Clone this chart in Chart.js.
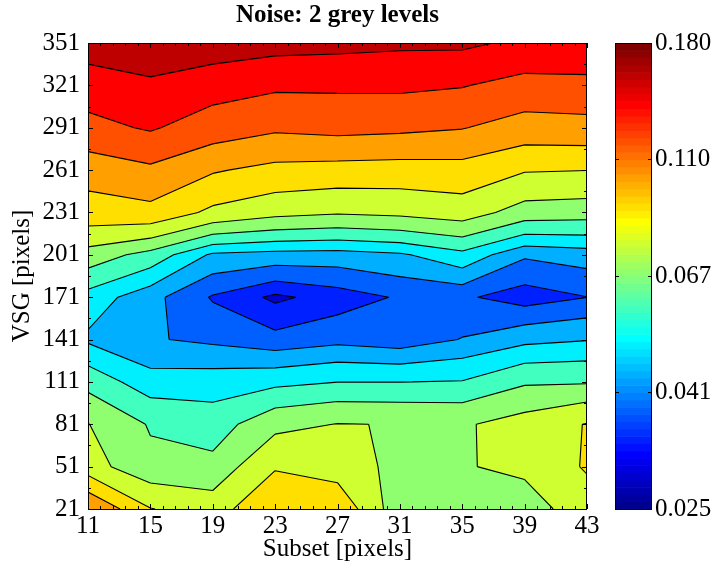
<!DOCTYPE html>
<html>
<head>
<meta charset="utf-8">
<script src="https://cdn.jsdelivr.net/npm/chart.js"></script>
<style>
  body { margin: 0; background: #fff; }
  canvas { display: block; }
</style>
</head>
<body>
<canvas id="chart" width="717" height="572"></canvas>
<script>
// ======== Data ========
const subset = [11, 15, 19, 23, 27, 31, 35, 39, 43];
const vsg = [21, 51, 81, 111, 141, 171, 201, 231, 261, 291, 321, 351];

// one row per VSG value, one column per subset size
const noise21  = [0.1172, 0.0900, 0.0834, 0.1017, 0.0990, 0.0700, 0.0723, 0.0726, 0.0835];
const noise51  = [0.0822, 0.0698, 0.0701, 0.0882, 0.0837, 0.0743, 0.0769, 0.0798, 0.0908];
const noise81  = [0.0779, 0.0665, 0.0627, 0.0744, 0.0779, 0.0773, 0.0763, 0.0821, 0.0901];
const noise111 = [0.0640, 0.0536, 0.0544, 0.0561, 0.0583, 0.0583, 0.0588, 0.0661, 0.0664];
const noise141 = [0.0494, 0.0446, 0.0426, 0.0398, 0.0420, 0.0402, 0.0443, 0.0486, 0.0503];
const noise171 = [0.0550, 0.0460, 0.0375, 0.0320, 0.0353, 0.0387, 0.0390, 0.0353, 0.0380];
const noise201 = [0.0731, 0.0638, 0.0493, 0.0479, 0.0475, 0.0496, 0.0560, 0.0449, 0.0469];
const noise231 = [0.0972, 0.0989, 0.0866, 0.0810, 0.0787, 0.0802, 0.0831, 0.0728, 0.0717];
const noise261 = [0.1090, 0.1156, 0.1046, 0.0990, 0.0975, 0.0968, 0.0977, 0.0904, 0.0897];
const noise291 = [0.1317, 0.1390, 0.1277, 0.1216, 0.1239, 0.1223, 0.1196, 0.1119, 0.1131];
const noise321 = [0.1463, 0.1547, 0.1453, 0.1402, 0.1402, 0.1406, 0.1381, 0.1304, 0.1317];
const noise351 = [0.1696, 0.1711, 0.1706, 0.1658, 0.1642, 0.1619, 0.1619, 0.1540, 0.1531];
const noise = [noise21, noise51, noise81, noise111, noise141, noise171,
               noise201, noise231, noise261, noise291, noise321, noise351];

const levels = [0.0287, 0.0331, 0.0381, 0.0440, 0.0507, 0.0584, 0.0674,
                0.0776, 0.0895, 0.1032, 0.1189, 0.1371, 0.1580];
const cbTicks = [0.025, 0.041, 0.067, 0.110, 0.180];

const FONT = 'Liberation Serif, Times New Roman, serif';

// ======== Colours (64-step jet, like the colorbar) ========
function jet(t) {
  const c = v => Math.round(255 * Math.max(0, Math.min(1, v)));
  return `rgb(${c(Math.min(4 * t - 1.5, -4 * t + 4.5))},${c(Math.min(4 * t - 0.5, -4 * t + 3.5))},${c(Math.min(4 * t + 0.5, -4 * t + 2.5))})`;
}
function jet64(f) {
  const idx = Math.max(0, Math.min(63, Math.floor(f * 64)));
  return jet((idx + 1) / 64);
}
function logFrac(v) {
  const lo = cbTicks[0], hi = cbTicks[cbTicks.length - 1];
  return Math.log(v / lo) / Math.log(hi / lo);
}

// ======== Contour helpers ========
function cellCorners(px, py, i, j) {
  return [
    { x: px[i], y: py[j], v: noise[j][i] },
    { x: px[i + 1], y: py[j], v: noise[j][i + 1] },
    { x: px[i + 1], y: py[j + 1], v: noise[j + 1][i + 1] },
    { x: px[i], y: py[j + 1], v: noise[j + 1][i] }
  ];
}

function edgeCrossings(c, lev) {
  const e = [];
  for (let k = 0; k < 4; k++) {
    const a = c[k], b = c[(k + 1) % 4];
    if ((a.v >= lev) !== (b.v >= lev)) {
      const t = (lev - a.v) / (b.v - a.v);
      e.push({ x: a.x + t * (b.x - a.x), y: a.y + t * (b.y - a.y) });
    } else e.push(null);
  }
  return e;
}

function superlevelShapes(c, lev) {
  const above = c.map(p => p.v >= lev);
  const e = edgeCrossings(c, lev);
  const saddle = above[0] === above[2] && above[1] === above[3] && above[0] !== above[1];
  const centre = (c[0].v + c[1].v + c[2].v + c[3].v) / 4;
  if (saddle && centre < lev) {
    const shapes = [];
    for (let k = 0; k < 4; k++) {
      if (above[k]) shapes.push([e[(k + 3) % 4], c[k], e[k]]);
    }
    return shapes;
  }
  const pts = [];
  for (let k = 0; k < 4; k++) {
    if (above[k]) pts.push(c[k]);
    if (e[k]) pts.push(e[k]);
  }
  return pts.length >= 3 ? [pts] : [];
}

function contourSegments(c, lev) {
  const above = c.map(p => p.v >= lev);
  const e = edgeCrossings(c, lev);
  const hits = e.map((p, k) => p ? k : -1).filter(k => k >= 0);
  if (hits.length === 2) return [[e[hits[0]], e[hits[1]]]];
  if (hits.length === 4) {
    const centreAbove = (c[0].v + c[1].v + c[2].v + c[3].v) / 4 >= lev;
    const segs = [];
    for (let k = 0; k < 4; k++) {
      if (above[k] !== centreAbove) segs.push([e[(k + 3) % 4], e[k]]);
    }
    return segs;
  }
  return [];
}

// ======== Plugin: filled contours, frame, colorbar ========
const contourPlugin = {
  id: 'contourPlugin',
  beforeDatasetsDraw(chart) {
    const { ctx, chartArea: a, scales: { x, y } } = chart;
    const px = subset.map(v => x.getPixelForValue(v));
    const py = vsg.map(v => y.getPixelForValue(v));

    ctx.save();
    ctx.beginPath();
    ctx.rect(a.left, a.top, a.right - a.left, a.bottom - a.top);
    ctx.clip();

    levels.forEach(lev => {
      ctx.beginPath();
      for (let j = 0; j < vsg.length - 1; j++) {
        for (let i = 0; i < subset.length - 1; i++) {
          superlevelShapes(cellCorners(px, py, i, j), lev).forEach(poly => {
            ctx.moveTo(poly[0].x, poly[0].y);
            for (let k = 1; k < poly.length; k++) ctx.lineTo(poly[k].x, poly[k].y);
            ctx.closePath();
          });
        }
      }
      ctx.fillStyle = jet64(logFrac(lev));
      ctx.fill('nonzero');
    });

    ctx.strokeStyle = '#000';
    ctx.lineWidth = 1.1;
    ctx.lineJoin = 'round';
    levels.forEach(lev => {
      ctx.beginPath();
      for (let j = 0; j < vsg.length - 1; j++) {
        for (let i = 0; i < subset.length - 1; i++) {
          contourSegments(cellCorners(px, py, i, j), lev).forEach(s => {
            ctx.moveTo(s[0].x, s[0].y);
            ctx.lineTo(s[1].x, s[1].y);
          });
        }
      }
      ctx.stroke();
    });
    ctx.restore();
  },

  afterDraw(chart) {
    const { ctx, chartArea: a, scales: { x, y, cb } } = chart;
    ctx.save();
    ctx.strokeStyle = '#000';
    ctx.lineWidth = 1;

    // inward ticks
    ctx.beginPath();
    for (let v = subset[0]; v <= subset[subset.length - 1] + 1e-6; v += 0.8) {
      const major = subset.some(s => Math.abs(s - v) < 1e-6);
      const len = major ? 5 : 3;
      const p = Math.round(x.getPixelForValue(v)) + 0.5;
      ctx.moveTo(p, a.bottom); ctx.lineTo(p, a.bottom - len);
      ctx.moveTo(p, a.top); ctx.lineTo(p, a.top + len);
    }
    for (let v = vsg[0]; v <= vsg[vsg.length - 1] + 1e-6; v += 15) {
      const major = vsg.includes(v);
      const len = major ? 5 : 3;
      const p = Math.round(y.getPixelForValue(v)) + 0.5;
      ctx.moveTo(a.left, p); ctx.lineTo(a.left + len, p);
      ctx.moveTo(a.right, p); ctx.lineTo(a.right - len, p);
    }
    ctx.stroke();
    ctx.strokeRect(a.left + 0.5, a.top + 0.5, a.right - a.left - 1, a.bottom - a.top);

    // colorbar
    const cbLeft = cb.left + 28, cbW = 37;
    const lo = cbTicks[0], hi = cbTicks[cbTicks.length - 1];
    for (let i = 0; i < 64; i++) {
      const y0 = cb.getPixelForValue(lo * Math.pow(hi / lo, i / 64));
      const y1 = cb.getPixelForValue(lo * Math.pow(hi / lo, (i + 1) / 64));
      ctx.fillStyle = jet((i + 1) / 64);
      ctx.fillRect(cbLeft, y1, cbW, y0 - y1 + 0.6);
    }
    ctx.beginPath();
    cbTicks.forEach(v => {
      const p = Math.round(cb.getPixelForValue(v)) + 0.5;
      ctx.moveTo(cbLeft, p); ctx.lineTo(cbLeft + 4, p);
      ctx.moveTo(cbLeft + cbW, p); ctx.lineTo(cbLeft + cbW - 4, p);
    });
    ctx.stroke();
    ctx.strokeRect(cbLeft + 0.5, cb.top + 0.5, cbW - 1, cb.bottom - cb.top);
    ctx.restore();
  }
};

// ======== Chart ========
const gridPoints = [];
vsg.forEach((vy, j) => subset.forEach((vx, i) => gridPoints.push({ x: vx, y: vy, v: noise[j][i] })));

const tickFont = { family: FONT, size: 25 };

new Chart(document.getElementById('chart').getContext('2d'), {
  type: 'scatter',
  data: { datasets: [{ data: gridPoints, pointRadius: 0, pointHoverRadius: 0 }] },
  options: {
    responsive: false,
    animation: false,
    events: [],
    layout: { padding: 0 },
    plugins: {
      legend: { display: false },
      tooltip: { enabled: false },
      title: {
        display: true,
        text: 'Noise: 2 grey levels',
        color: '#000',
        fullSize: false,
        font: { family: FONT, size: 25, weight: 'bold' },
        padding: { top: 1, bottom: 12 }
      }
    },
    scales: {
      x: {
        type: 'linear',
        min: subset[0],
        max: subset[subset.length - 1],
        afterBuildTicks: s => { s.ticks = subset.map(v => ({ value: v })); },
        afterFit: s => { s.height = 63; },
        grid: { display: false, drawTicks: false },
        border: { display: false },
        ticks: { font: tickFont, color: '#000', padding: 2, maxRotation: 0, autoSkip: false },
        title: { display: true, text: 'Subset [pixels]', color: '#000', font: tickFont, padding: { top: 0, bottom: 7.5 } }
      },
      y: {
        type: 'linear',
        min: vsg[0],
        max: vsg[vsg.length - 1],
        afterBuildTicks: s => { s.ticks = vsg.map(v => ({ value: v })); },
        afterFit: s => { s.width = 88; },
        grid: { display: false, drawTicks: false },
        border: { display: false },
        ticks: { font: tickFont, color: '#000', padding: 8, autoSkip: false },
        title: { display: true, text: 'VSG [pixels]', color: '#000', font: tickFont, padding: { top: 7, bottom: 0 } }
      },
      cb: {
        type: 'logarithmic',
        position: 'right',
        min: cbTicks[0],
        max: cbTicks[cbTicks.length - 1],
        afterBuildTicks: s => { s.ticks = cbTicks.map(v => ({ value: v })); },
        afterFit: s => { s.width = 130; },
        grid: { display: true, drawOnChartArea: false, drawTicks: true, tickLength: 68, color: 'rgba(0,0,0,0)' },
        border: { display: false },
        ticks: { font: tickFont, color: '#000', padding: 0, autoSkip: false, callback: v => Number(v).toFixed(3) }
      }
    }
  },
  plugins: [contourPlugin]
});
</script>
</body>
</html>
